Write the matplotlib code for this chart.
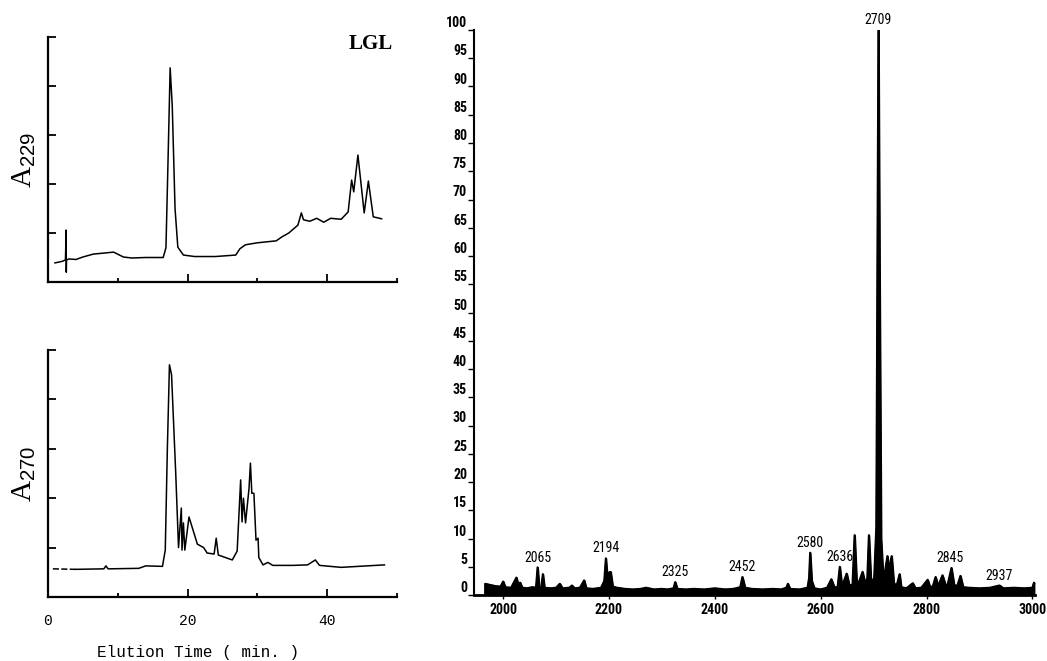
import numpy as np
from matplotlib import pyplot as plt
from matplotlib import font_manager as fm

# HPLC traces (elution time in min, absorbance in chart units)
top_time = [1.0, 2.0, 2.5, 2.6, 2.62, 2.65, 3.0, 4.0, 5.0, 6.5, 8.0, 9.4, 10.8, 12.0, 14.0, 16.5,
            16.9, 17.2, 17.5, 17.8, 18.2, 18.6, 19.4, 21.0, 24.0, 26.9, 27.5, 28.3, 30.0, 32.7,
            33.5, 34.5, 35.8, 36.3, 36.6, 37.5, 38.5, 39.5, 40.5, 42.0, 43.0, 43.5, 43.8, 44.4,
            45.3, 45.9, 46.6, 47.8]
top_abs = [0.39, 0.42, 0.45, 1.06, 0.2, 0.45, 0.47, 0.46, 0.51, 0.57, 0.59, 0.61, 0.51, 0.49, 0.5, 0.5,
           0.7, 2.5, 4.37, 3.6, 1.5, 0.71, 0.55, 0.52, 0.52, 0.55, 0.68, 0.76, 0.8, 0.84,
           0.92, 1.0, 1.16, 1.41, 1.27, 1.24, 1.3, 1.22, 1.3, 1.28, 1.43, 2.08, 1.84, 2.59,
           1.41, 2.06, 1.33, 1.29]

bot_time = [0.7, 4.0, 8.0, 8.3, 8.6, 13.0, 14.0, 16.4, 16.8, 17.1, 17.4, 17.7, 18.3, 18.7, 18.9,
            19.1, 19.2, 19.4, 19.6, 20.2, 21.4, 22.3, 22.8, 23.8, 24.1, 24.4, 26.4, 27.1, 27.6,
            27.8, 28.0, 28.3, 28.8, 29.0, 29.2, 29.5, 29.8, 30.1, 30.2, 30.8, 31.5, 32.2, 35.1,
            37.2, 38.3, 38.9, 42.0, 48.2]
bot_abs = [0.57, 0.56, 0.57, 0.63, 0.57, 0.58, 0.63, 0.62, 0.95, 3.0, 4.7, 4.5, 2.5, 1.0, 1.4,
           1.8, 0.95, 1.5, 0.95, 1.62, 1.07, 1.0, 0.89, 0.87, 1.19, 0.85, 0.75, 0.93, 2.37,
           1.52, 2.0, 1.5, 2.2, 2.71, 2.1, 2.1, 1.15, 1.19, 0.8, 0.65, 0.7, 0.64, 0.64,
           0.65, 0.75, 0.64, 0.6, 0.65]
dashed_until = 4.0

# mass spectrum outline (m/z, relative intensity)
ms_mz = [1966, 1966, 1975, 1985, 1995, 2000, 2004, 2015, 2025, 2029, 2032, 2036, 2045, 2055, 2062,
         2065, 2068, 2072, 2075, 2078, 2090, 2100, 2107, 2112, 2125, 2130, 2135, 2145, 2153, 2157,
         2170, 2185, 2191, 2194, 2197, 2200, 2203, 2207, 2215, 2230, 2245, 2260, 2270, 2285, 2300,
         2310, 2322, 2325, 2329, 2345, 2360, 2380, 2400, 2420, 2435, 2448, 2452, 2457, 2470, 2490,
         2510, 2525, 2535, 2538, 2542, 2560, 2575, 2578, 2580, 2583, 2588, 2600, 2612, 2620, 2626,
         2632, 2636, 2640, 2644, 2649, 2654, 2660, 2664, 2668, 2673, 2679, 2684, 2688, 2691, 2695,
         2701, 2705, 2708, 2709, 2711, 2714, 2718, 2722, 2726, 2729, 2734, 2738, 2743, 2749, 2752,
         2762, 2774, 2779, 2790, 2802, 2807, 2812, 2817, 2822, 2830, 2836, 2840, 2847, 2852, 2858,
         2864, 2869, 2880, 2900, 2920, 2938, 2945, 2965, 2985, 3000, 3003, 3003]
ms_int = [0, 2.0, 1.8, 1.6, 1.5, 2.4, 1.4, 1.3, 3.1, 1.6, 2.2, 1.3, 1.2, 1.4, 1.3,
          4.9, 1.3, 1.4, 3.7, 1.3, 1.2, 1.3, 2.0, 1.2, 1.3, 1.7, 1.2, 1.3, 2.6, 1.2,
          1.1, 1.3, 2.5, 6.5, 2.8, 4.0, 4.1, 1.5, 1.3, 1.1, 1.0, 1.1, 1.3, 1.0, 1.1,
          1.0, 1.2, 2.3, 1.1, 1.0, 1.1, 1.0, 1.2, 1.0, 1.1, 1.4, 3.2, 1.3, 1.1, 1.0,
          1.1, 1.0, 1.3, 2.0, 1.1, 1.0, 1.3, 3.0, 7.5, 2.5, 1.2, 1.0, 1.3, 2.8, 1.3,
          1.5, 5.0, 1.6, 2.5, 3.8, 1.7, 1.8, 10.6, 1.9, 2.5, 4.1, 2.0, 3.0, 10.6, 2.2,
          3.0, 12.0, 80.0, 100.0, 60.0, 10.0, 3.0, 4.5, 6.9, 4.5, 6.9, 2.2, 1.5, 3.7, 1.4,
          1.2, 2.1, 1.2, 1.3, 2.7, 1.3, 1.6, 3.2, 1.6, 3.5, 1.7, 1.9, 4.8, 1.8, 1.6,
          3.4, 1.4, 1.3, 1.2, 1.3, 1.7, 1.2, 1.3, 1.2, 1.3, 2.2, 0]
peak_labels = [2065, 2194, 2325, 2452, 2580, 2636, 2709, 2845, 2937]
peak_heights = [4.9, 6.5, 2.3, 3.2, 7.5, 5.0, 100.0, 4.8, 1.7]

W, H = 1047, 661
fig = plt.figure(figsize=(W / 100, H / 100), dpi=100)

available = {f.name for f in fm.fontManager.ttflist}
narrow = next((f for f in ['Liberation Sans Narrow', 'Roboto Condensed', 'DejaVu Sans Mono'] if f in available),
              'DejaVu Sans')

plt.rcParams['mathtext.fontset'] = 'custom'
plt.rcParams['mathtext.rm'] = 'Liberation Serif'
plt.rcParams['mathtext.sf'] = 'Liberation Sans'


def px_axes(x0, y0, x1, y1):
    # pixel box (left, top, right, bottom) -> figure fraction
    return fig.add_axes([x0 / W, 1 - y1 / H, (x1 - x0) / W, (y1 - y0) / H])


def style_hplc(ax, show_labels):
    ax.set_xlim(0, 50)
    ax.set_ylim(0, 5)
    for side in ['top', 'right']:
        ax.spines[side].set_visible(False)
    for side in ['left', 'bottom']:
        ax.spines[side].set_linewidth(1.6)
    ax.set_yticks([1, 2, 3, 4, 5])
    ax.set_yticklabels([])
    ax.set_xticks([0, 20, 40])
    ax.set_xticks([10, 30, 50], minor=True)
    ax.tick_params(axis='both', which='major', direction='in', length=6, width=1.3)
    ax.tick_params(axis='both', which='minor', direction='in', length=3, width=1.3)
    if show_labels:
        ax.set_xticklabels(['0', '20', '40'], family='Liberation Mono', fontsize=10.5)
        ax.tick_params(axis='x', pad=12)
    else:
        ax.set_xticklabels([])


ax1 = px_axes(48, 37, 397, 282)
ax1.plot(top_time, top_abs, color='black', lw=1.1)
style_hplc(ax1, False)
ax1.set_ylabel(r'$\mathrm{A}_{\mathsf{229}}$', fontsize=21, labelpad=4)
fig.text(371 / W, 1 - 44 / H, 'LGL', family='Liberation Serif', weight='bold', fontsize=15,
         ha='center', va='center')

ax2 = px_axes(48, 350, 397, 597)
bt = np.array(bot_time)
ba = np.array(bot_abs)
k = np.searchsorted(bt, dashed_until) + 1
ax2.plot(bt[:k], ba[:k], color='black', lw=1.1, ls=(0, (4, 1.5)))
ax2.plot(bt[k - 1:], ba[k - 1:], color='black', lw=1.1)
style_hplc(ax2, True)
ax2.set_ylabel(r'$\mathrm{A}_{\mathsf{270}}$', fontsize=21, labelpad=4)
fig.text(198 / W, 1 - 652 / H, 'Elution Time ( min. )', family='Liberation Mono', fontsize=11.5,
         ha='center', va='center')

# mass spectrum
ax3 = px_axes(474, 30, 1035, 595)
ax3.fill_between(ms_mz, ms_int, 0, color='black', lw=1.4)
ax3.plot(ms_mz, ms_int, color='black', lw=1.4)
ax3.set_xlim(1945, 3005)
ax3.set_ylim(0, 100)
for side in ['top', 'right']:
    ax3.spines[side].set_visible(False)
ax3.spines['left'].set_linewidth(1.5)
ax3.spines['bottom'].set_linewidth(2)
ax3.set_yticks(np.arange(0, 101, 5))
ax3.set_yticklabels([str(v) for v in range(0, 101, 5)], family=narrow, weight='bold', fontsize=10)
for t in ax3.get_yticklabels():
    t.set_va('bottom')
ax3.set_xticks(np.arange(2000, 3001, 200))
ax3.set_xticklabels([str(v) for v in range(2000, 3001, 200)], family=narrow, weight='bold', fontsize=10)
ax3.tick_params(axis='y', direction='out', length=4, width=1, pad=1)
ax3.tick_params(axis='x', direction='out', length=3, width=1, pad=3)
for mz, h in zip(peak_labels, peak_heights):
    ax3.annotate(str(mz), (mz, h), xytext=(0, 2), textcoords='offset points', ha='center', va='bottom',
                 family=narrow, fontsize=10, annotation_clip=False)

plt.savefig('out.png', dpi=100)
